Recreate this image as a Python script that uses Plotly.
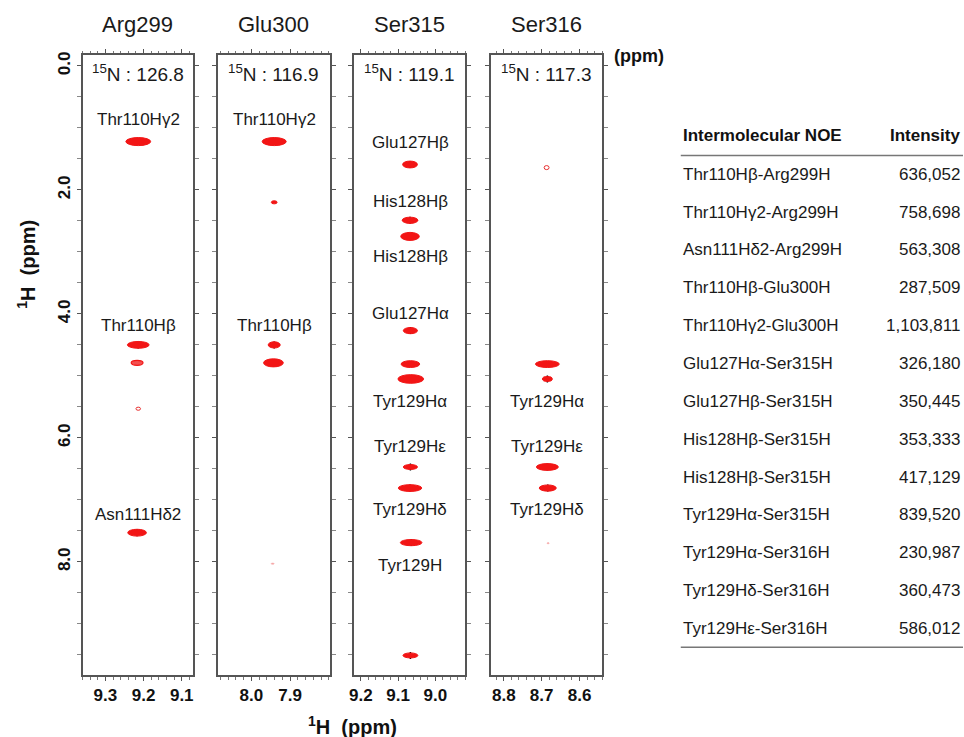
import plotly.graph_objects as go

W, H = 964, 737
FONT = "Liberation Sans, Arial, sans-serif"

# ---------------- data ----------------
residues = ["Arg299", "Glu300", "Ser315", "Ser316"]
n15_shift = ["126.8", "116.9", "119.1", "117.3"]
hn_shift = [9.214, 7.941, 9.067, 8.686]
x_ranges = [[9.36, 9.071], [8.087, 7.797], [9.219, 8.92], [8.834, 8.54]]
x_ticks = [[9.3, 9.2, 9.1], [8.0, 7.9], [9.2, 9.1, 9.0], [8.8, 8.7, 8.6]]
y_range = [9.83, -0.18]
y_ticks = [0.0, 2.0, 4.0, 6.0, 8.0]

# NOE cross peaks (1H ppm direct, 1H ppm indirect, linewidths in ppm)
peak_x = [
    [9.214, 9.214, 9.217, 9.214, 9.217],
    [7.941, 7.941, 7.941, 7.943, 7.945],
    [9.068, 9.068, 9.068, 9.067, 9.067, 9.066, 9.067, 9.068, 9.065, 9.067],
    [8.687, 8.685, 8.685, 8.685, 8.684, 8.683],
]
peak_y = [
    [1.22, 4.50, 4.79, 5.53, 7.53],
    [1.22, 2.20, 4.50, 4.79, 8.03],
    [1.59, 2.49, 2.75, 4.27, 4.81, 5.05, 6.47, 6.81, 7.69, 9.51],
    [1.64, 4.81, 5.05, 6.47, 6.81, 7.70],
]
peak_wx = [
    [0.065, 0.057, 0.031, 0.012, 0.049],
    [0.062, 0.015, 0.031, 0.051, 0.008],
    [0.040, 0.042, 0.050, 0.038, 0.050, 0.069, 0.038, 0.063, 0.058, 0.040],
    [0.013, 0.063, 0.026, 0.058, 0.045, 0.006],
]
peak_wy = [
    [0.13, 0.11, 0.08, 0.05, 0.11],
    [0.13, 0.05, 0.10, 0.13, 0.02],
    [0.11, 0.10, 0.13, 0.10, 0.11, 0.14, 0.08, 0.11, 0.10, 0.08],
    [0.065, 0.11, 0.08, 0.11, 0.10, 0.02],
]
peak_kind = [
    ["solid", "solid", "light", "open", "solid"],
    ["solid", "solid", "solid", "solid", "faint"],
    ["solid"] * 10,
    ["open", "solid", "solid", "solid", "solid", "faint"],
]
peak_mark = [
    [True, True, False, False, True],
    [True, False, True, False, False],
    [True, True, True, True, False, True, True, True, True, True],
    [False, False, True, True, True, False],
]

label_text = [
    ["Thr110Hγ2", "Thr110Hβ", "Asn111Hδ2"],
    ["Thr110Hγ2", "Thr110Hβ"],
    ["Glu127Hβ", "His128Hβ", "His128Hβ", "Glu127Hα", "Tyr129Hα", "Tyr129Hε", "Tyr129Hδ", "Tyr129H"],
    ["Tyr129Hα", "Tyr129Hε", "Tyr129Hδ"],
]
label_y = [
    [0.87, 4.18, 7.23],
    [0.87, 4.18],
    [1.24, 2.18, 3.07, 4.00, 5.41, 6.14, 7.16, 8.06],
    [5.41, 6.14, 7.16],
]

noe_pairs = [
    "Thr110Hβ-Arg299H", "Thr110Hγ2-Arg299H", "Asn111Hδ2-Arg299H", "Thr110Hβ-Glu300H",
    "Thr110Hγ2-Glu300H", "Glu127Hα-Ser315H", "Glu127Hβ-Ser315H", "His128Hβ-Ser315H",
    "His128Hβ-Ser315H", "Tyr129Hα-Ser315H", "Tyr129Hα-Ser316H", "Tyr129Hδ-Ser316H",
    "Tyr129Hε-Ser316H",
]
noe_intensity = [636052, 758698, 563308, 287509, 1103811, 326180, 350445,
                 353333, 417129, 839520, 230987, 360473, 586012]

# ---------------- layout geometry (pixels) ----------------
panel_px = [(78, 189), (214, 327), (351, 463), (489, 601)]
top_px, bot_px = 52, 675


def px(x):
    return x / W


def py(y):
    return 1 - y / H


def paper_text(x, y, text, size, xanchor="center", bold=False, angle=0, color="#1a1a1a"):
    return dict(
        x=px(x), y=py(y), xref="paper", yref="paper", showarrow=False,
        xanchor=xanchor, yanchor="middle", textangle=angle,
        text=f"<b>{text}</b>" if bold else text,
        font=dict(size=size, family=FONT, color=color),
    )


fig = go.Figure()
layout = dict(
    width=W, height=H, margin=dict(l=0, r=0, t=0, b=0),
    paper_bgcolor="white", plot_bgcolor="white", showlegend=False,
    font=dict(family=FONT, color="#222"),
)
shapes = []
annotations = []

kind_style = {
    "solid": dict(fillcolor="#f21515", line=dict(color="#f21515", width=1)),
    "light": dict(fillcolor="#f25050", line=dict(color="#f21515", width=1.2)),
    "open": dict(fillcolor="rgba(255,255,255,0)", line=dict(color="#e83030", width=1)),
    "faint": dict(fillcolor="#f5a5a5", line=dict(color="#f5a5a5", width=0.5)),
}

for i in range(4):
    sfx = "" if i == 0 else str(i + 1)
    xa, ya = "x" + sfx, "y" + sfx
    x0p, x1p = panel_px[i]
    layout["xaxis" + sfx] = dict(
        domain=[px(x0p), px(x1p)], anchor=ya, range=x_ranges[i],
        tickvals=x_ticks[i], ticktext=[f"{v:.1f}" for v in x_ticks[i]],
        ticks="outside", ticklen=4, tickwidth=1, tickcolor="#555",
        minor=dict(dtick=0.02, tick0=0, ticks="outside", ticklen=2.5, tickwidth=1, tickcolor="#777"),
        showline=True, linecolor="#555", linewidth=1.5, mirror="ticks",
        showgrid=False, zeroline=False, fixedrange=True,
        tickfont=dict(size=17, family=FONT, color="#111", weight="bold"),
    )
    layout["yaxis" + sfx] = dict(
        domain=[py(bot_px), py(top_px)], anchor=xa, range=y_range,
        tickvals=y_ticks, ticktext=[f"{v:.1f}" for v in y_ticks],
        showticklabels=(i == 0), tickangle=-90,
        ticks="outside", ticklen=4, tickwidth=1, tickcolor="#555",
        minor=dict(dtick=0.5, tick0=0, ticks="outside", ticklen=4, tickwidth=1, tickcolor="#888"),
        showline=True, linecolor="#555", linewidth=1.5, mirror="ticks",
        showgrid=False, zeroline=False, fixedrange=True,
        tickfont=dict(size=17, family=FONT, color="#111", weight="bold"),
    )

    # peaks
    for xc, yc, wx, wy, kd in zip(peak_x[i], peak_y[i], peak_wx[i], peak_wy[i], peak_kind[i]):
        st = kind_style[kd]
        shapes.append(dict(
            type="circle", xref=xa, yref=ya, layer="above",
            x0=xc - wx / 2, x1=xc + wx / 2, y0=yc - wy / 2, y1=yc + wy / 2,
            fillcolor=st["fillcolor"], line=st["line"],
        ))
    mx = [x for x, m in zip(peak_x[i], peak_mark[i]) if m]
    my = [y for y, m in zip(peak_y[i], peak_mark[i]) if m]
    fig.add_trace(go.Scatter(
        x=mx, y=my, xaxis=xa, yaxis=ya, mode="markers", hoverinfo="skip",
        marker=dict(symbol="line-ns", size=5, line=dict(color="black", width=1.5)),
    ))

    # peak labels
    for t, yl in zip(label_text[i], label_y[i]):
        annotations.append(dict(
            x=hn_shift[i], y=yl, xref=xa, yref=ya, text=t, showarrow=False,
            xanchor="center", yanchor="middle",
            font=dict(size=17, family=FONT, color="#1a1a1a"),
        ))

    # panel title and 15N shift
    cx = (x0p + x1p) / 2
    annotations.append(paper_text(cx, 22, residues[i], 22))
    annotations.append(paper_text(cx, 70, f"<sup>15</sup>N : {n15_shift[i]}", 19))

# axis titles
annotations.append(paper_text(350, 725, "<sup>1</sup>H  (ppm)", 20, bold=True, color="#111"))
annotations.append(paper_text(22, 262, "<sup>1</sup>H  (ppm)", 20, bold=True, angle=-90, color="#111"))
annotations.append(paper_text(611, 53, "(ppm)", 18, xanchor="left", bold=True, color="#111"))

# table
tab_left, tab_right = 680, 963
annotations.append(paper_text(tab_left, 133, "Intermolecular NOE", 17, xanchor="left", bold=True, color="#111"))
annotations.append(paper_text(tab_right, 133, "Intensity", 17, xanchor="right", bold=True, color="#111"))
row0, row_step = 172, 38.0
for k, (pair, val) in enumerate(zip(noe_pairs, noe_intensity)):
    yy = row0 + k * row_step
    annotations.append(paper_text(tab_left, yy, pair, 17, xanchor="left"))
    annotations.append(paper_text(tab_right, yy, f"{val:,}", 17, xanchor="right"))
for yl in (153, row0 + (len(noe_pairs) - 1) * row_step + 19):
    shapes.append(dict(
        type="line", xref="paper", yref="paper", x0=px(tab_left), x1=px(964),
        y0=py(yl), y1=py(yl), line=dict(color="#777", width=1.5),
    ))

layout["shapes"] = shapes
layout["annotations"] = annotations
fig.update_layout(**layout)
fig.write_html("out.html", config={"displayModeBar": False},
               post_script="document.body.style.margin='0px';")
